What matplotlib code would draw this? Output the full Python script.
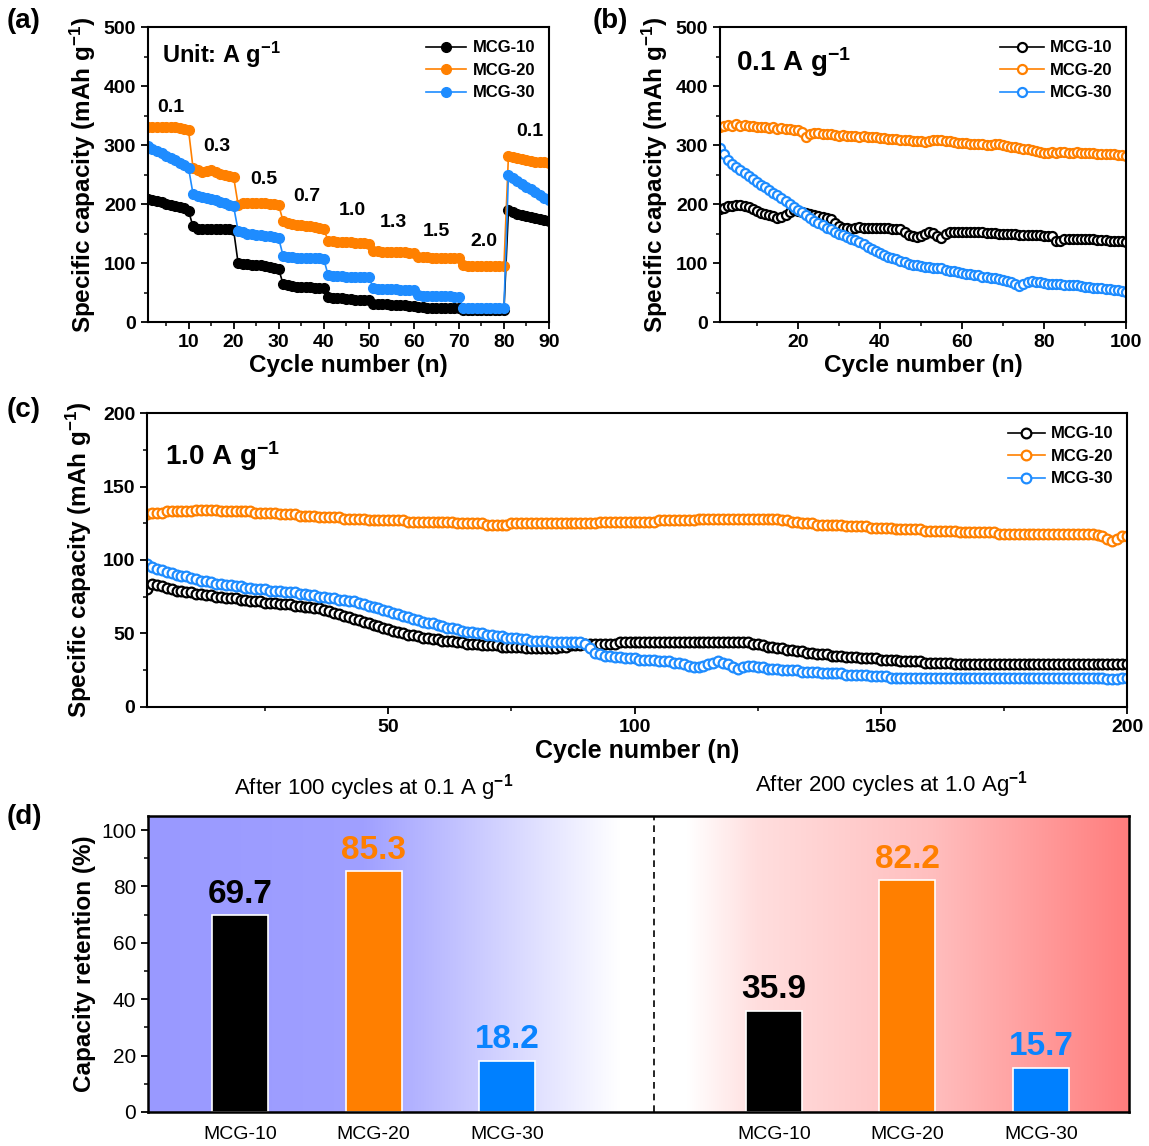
import numpy as np
import matplotlib
matplotlib.use("Agg")
import matplotlib.pyplot as plt
from matplotlib.ticker import MultipleLocator
from matplotlib import font_manager

plt.rcParams['font.family'] = ['Liberation Sans', 'DejaVu Sans']
plt.rcParams['font.weight'] = 'bold'
plt.rcParams['axes.labelweight'] = 'bold'
plt.rcParams['axes.linewidth'] = 1.5
plt.rcParams['mathtext.fontset'] = 'custom'
plt.rcParams['mathtext.rm'] = 'Liberation Sans:bold'
plt.rcParams['mathtext.bf'] = 'Liberation Sans:bold'
plt.rcParams['mathtext.default'] = 'bf'

_names = {f.name for f in font_manager.fontManager.ttflist}
NARROW = [n for n in ['Liberation Sans Narrow', 'DejaVu Sans Condensed'] if n in _names] + ['Liberation Sans', 'DejaVu Sans']

# ---------------- data ----------------
series_names = ["MCG-10", "MCG-20", "MCG-30"]

# (a) rate performance, cycles 1-90
rate_labels = ["0.1", "0.3", "0.5", "0.7", "1.0", "1.3", "1.5", "2.0", "0.1"]
rate_mcg10 = [208, 207, 205, 203, 200, 198, 197, 195, 193, 188,
              162, 158, 157, 157, 158, 158, 158, 157, 157, 156,
              100, 99, 98, 97, 97, 96, 95, 93, 92, 90,
              64, 62, 61, 60, 60, 59, 59, 58, 58, 57,
              42, 41, 40, 40, 39, 39, 38, 38, 38, 37,
              31, 30, 30, 30, 29, 29, 29, 29, 28, 28,
              25, 25, 24, 24, 24, 24, 23, 23, 23, 23,
              21, 21, 20, 20, 20, 20, 20, 20, 20, 20,
              190, 186, 183, 181, 179, 178, 177, 175, 173, 171]
rate_mcg20 = [330, 331, 331, 331, 331, 330, 330, 329, 328, 325,
              261, 257, 255, 256, 258, 255, 251, 249, 248, 246,
              199, 201, 202, 202, 202, 201, 201, 200, 200, 198,
              171, 168, 166, 165, 164, 163, 162, 161, 159, 157,
              138, 137, 136, 136, 135, 135, 134, 134, 134, 133,
              121, 120, 119, 119, 119, 118, 118, 118, 117, 117,
              111, 110, 110, 109, 109, 109, 109, 109, 109, 108,
              96, 95, 95, 95, 95, 95, 95, 95, 95, 95,
              282, 280, 278, 276, 274, 273, 272, 272, 271, 270]
rate_mcg30 = [298, 294, 290, 286, 282, 278, 274, 270, 266, 261,
              217, 214, 212, 210, 208, 206, 204, 201, 199, 196,
              155, 152, 150, 149, 148, 147, 146, 145, 144, 142,
              112, 110, 110, 109, 109, 108, 108, 108, 108, 107,
              79, 78, 78, 78, 77, 77, 77, 77, 77, 77,
              57, 56, 56, 56, 56, 56, 55, 55, 55, 55,
              45, 44, 44, 44, 44, 44, 44, 44, 43, 43,
              24, 24, 23, 23, 23, 23, 23, 23, 23, 23,
              249, 244, 239, 234, 229, 225, 220, 215, 210, 206]

# (b) cycling at 0.1 A/g, cycles 1-100
b_mcg10 = [192, 194, 196, 197, 198, 198, 197, 195, 192, 188,
           185, 183, 181, 179, 177, 178, 181, 186, 190, 189,
           187, 185, 183, 181, 179, 178, 177, 175, 168, 163,
           160, 159, 158, 160, 161, 160, 160, 159, 159, 159,
           159, 159, 158, 158, 158, 152, 147, 145, 144, 146,
           150, 153, 151, 146, 142, 150, 153, 153, 152, 152,
           152, 153, 152, 152, 152, 151, 151, 151, 150, 150,
           149, 149, 149, 148, 148, 148, 148, 147, 147, 146,
           146, 145, 137, 138, 141, 141, 140, 140, 140, 141,
           140, 140, 139, 139, 139, 138, 138, 137, 137, 136]
b_mcg20 = [331, 333, 334, 333, 335, 333, 334, 332, 333, 331,
           330, 331, 329, 330, 328, 329, 327, 328, 326, 325,
           322, 314, 318, 321, 320, 319, 318, 319, 317, 316,
           317, 316, 315, 316, 314, 315, 314, 313, 313, 312,
           312, 311, 310, 311, 309, 308, 309, 307, 306, 306,
           305, 307, 308, 309, 308, 307, 306, 305, 304, 303,
           303, 302, 302, 301, 301, 300, 300, 301, 302, 300,
           298, 297, 296, 295, 294, 293, 292, 290, 288, 287,
           287, 288, 287, 288, 288, 287, 287, 288, 287, 286,
           286, 286, 285, 285, 285, 284, 284, 283, 283, 282]
b_mcg30 = [295, 285, 275, 268, 262, 257, 252, 247, 243, 238,
           233, 229, 224, 219, 215, 210, 205, 200, 195, 190,
           186, 182, 177, 172, 168, 164, 160, 157, 153, 150,
           147, 144, 141, 139, 136, 132, 128, 124, 120, 117,
           114, 111, 108, 106, 103, 101, 99, 97, 96, 95,
           94, 93, 92, 92, 91, 89, 87, 86, 85, 83,
           82, 81, 80, 79, 77, 76, 75, 74, 73, 72,
           70, 68, 64, 61, 64, 68, 69, 68, 67, 66,
           65, 65, 64, 64, 63, 63, 62, 62, 61, 60,
           59, 58, 58, 57, 56, 56, 55, 54, 53, 51]

# (c) cycling at 1.0 A/g, cycles 1-200
c_mcg10 = [80, 84, 83, 82, 81, 80, 79, 79, 78, 78, 77, 77, 76, 76, 75, 75, 74, 74, 74, 73,
           73, 72, 72, 72, 71, 71, 71, 70, 70, 70, 69, 69, 68, 68, 67, 67, 66, 65, 64, 63,
           62, 61, 60, 59, 58, 57, 56, 55, 54, 53, 52, 51, 50, 49, 49, 48, 47, 47, 46, 46,
           45, 45, 45, 44, 44, 43, 43, 43, 42, 42, 42, 42, 41, 41, 41, 41, 41, 40, 40, 40,
           40, 40, 40, 40, 41, 41, 42, 42, 42, 43, 43, 43, 43, 43, 43, 43, 44, 44, 44, 44,
           44, 44, 44, 44, 44, 44, 44, 44, 44, 44, 44, 44, 44, 44, 44, 44, 44, 44, 44, 44,
           44, 44, 44, 43, 43, 42, 41, 41, 40, 40, 39, 39, 38, 38, 37, 37, 36, 36, 36, 35,
           35, 35, 34, 34, 34, 33, 33, 33, 33, 32, 32, 32, 32, 31, 31, 31, 31, 31, 30, 30,
           30, 30, 30, 30, 29, 29, 29, 29, 29, 29, 29, 29, 29, 29, 29, 29, 29, 29, 29, 29,
           29, 29, 29, 29, 29, 29, 29, 29, 29, 29, 29, 29, 29, 29, 29, 29, 29, 29, 29, 29]
c_mcg20 = [131, 132, 132, 132, 133, 133, 133, 133, 133, 133, 134, 134, 134, 134, 134, 133, 133, 133, 133, 133,
           133, 133, 132, 132, 132, 132, 132, 131, 131, 131, 131, 130, 130, 130, 130, 129, 129, 129, 129, 129,
           128, 128, 128, 128, 128, 127, 127, 127, 127, 127, 127, 127, 127, 126, 126, 126, 126, 126, 126, 126,
           126, 126, 126, 125, 125, 125, 125, 125, 125, 124, 124, 124, 124, 124, 125, 125, 125, 125, 125, 125,
           125, 125, 125, 125, 125, 125, 125, 125, 125, 125, 125, 125, 126, 126, 126, 126, 126, 126, 126, 126,
           126, 126, 126, 126, 127, 127, 127, 127, 127, 127, 127, 127, 128, 128, 128, 128, 128, 128, 128, 128,
           128, 128, 128, 128, 128, 128, 128, 128, 128, 127, 127, 126, 126, 125, 125, 125, 124, 124, 124, 124,
           124, 124, 123, 123, 123, 123, 123, 122, 122, 122, 122, 122, 121, 121, 121, 121, 121, 121, 120, 120,
           120, 120, 120, 120, 120, 119, 119, 119, 119, 119, 119, 119, 119, 118, 118, 118, 118, 118, 118, 118,
           118, 118, 118, 118, 118, 118, 118, 118, 118, 118, 118, 118, 118, 117, 116, 114, 113, 114, 116, 116]
c_mcg30 = [97, 95, 94, 93, 92, 91, 90, 89, 89, 88, 87, 86, 86, 85, 84, 84, 83, 83, 82, 82,
           81, 81, 80, 80, 80, 79, 79, 79, 78, 78, 78, 77, 77, 76, 76, 75, 75, 74, 74, 73,
           73, 72, 72, 71, 70, 69, 68, 67, 66, 65, 64, 63, 62, 61, 60, 59, 58, 57, 57, 56,
           55, 54, 54, 53, 52, 51, 51, 50, 50, 49, 49, 48, 48, 47, 47, 47, 46, 46, 45, 45,
           45, 45, 44, 44, 44, 44, 44, 44, 44, 43, 40, 37, 36, 35, 35, 34, 34, 33, 33, 33,
           32, 32, 32, 32, 31, 31, 31, 30, 30, 29, 28, 27, 27, 28, 29, 30, 31, 30, 29, 27,
           26, 27, 28, 28, 27, 27, 26, 26, 26, 25, 25, 25, 25, 24, 24, 24, 24, 23, 23, 23,
           23, 23, 22, 22, 22, 22, 22, 21, 21, 21, 21, 20, 20, 20, 20, 20, 20, 20, 20, 20,
           20, 20, 20, 20, 20, 20, 20, 20, 20, 20, 20, 20, 20, 20, 20, 20, 20, 20, 20, 20,
           20, 20, 20, 20, 20, 20, 20, 20, 20, 20, 20, 20, 20, 20, 20, 19, 19, 19, 20, 20]

# (d) capacity retention (%)
group_titles = ["After 100 cycles at 0.1 A g$^{-1}$", "After 200 cycles at 1.0 Ag$^{-1}$"]
retention_01 = [69.7, 85.3, 18.2]
retention_10 = [35.9, 82.2, 15.7]

# ---------------- style ----------------
line_colors = ['black', '#FF8000', '#1E8CFF']
bar_colors = ['black', '#FF7F00', '#0080FF']
label_colors = ['black', '#FF7F00', '#0A84FF']

fig = plt.figure(figsize=(11.49, 11.46), dpi=100)


def style_axis(ax, xmaj, xmin_, ymaj, ymin_, fs=14, family=None):
    ax.xaxis.set_major_locator(MultipleLocator(xmaj))
    ax.xaxis.set_minor_locator(MultipleLocator(xmin_))
    ax.yaxis.set_major_locator(MultipleLocator(ymaj))
    ax.yaxis.set_minor_locator(MultipleLocator(ymin_))
    ax.tick_params(which='major', direction='out', length=5, width=1.3,
                   labelsize=fs, top=False, right=False)
    ax.tick_params(which='minor', direction='out', length=3, width=1.1,
                   top=False, right=False)
    for lab in ax.get_xticklabels() + ax.get_yticklabels():
        lab.set_fontweight('bold')
        if family:
            lab.set_fontfamily(family)


# ---------------- (a) ----------------
ax_a = fig.add_axes([0.1288, 0.719, 0.349, 0.2574])
cyc_a = np.arange(1, len(rate_mcg10) + 1)
for vals, col, name in zip([rate_mcg10, rate_mcg20, rate_mcg30], line_colors, series_names):
    ax_a.plot(cyc_a, vals, '-o', color=col, lw=1.2, ms=7, mec=col, mfc=col, label=name)
ax_a.set_xlim(1, 90)
ax_a.set_ylim(0, 500)
style_axis(ax_a, 10, 5, 100, 50)
ax_a.set_xlabel('Cycle number (n)', fontsize=17.5, labelpad=2)
ax_a.set_ylabel('Specific capacity (mAh g$^{-1}$)', fontsize=17.5, labelpad=4)
ax_a.text(4.2, 452, 'Unit: A g$^{-1}$', fontsize=17, fontweight='bold', va='center', ha='left')
rate_label_xy = [(6.1, 364), (16.2, 297), (26.8, 241), (36.3, 213), (46.3, 189),
                 (55.4, 169), (65.1, 154), (75.6, 136), (85.8, 323)]
for lab, (x, y) in zip(rate_labels, rate_label_xy):
    ax_a.text(x, y, lab, fontsize=14, fontweight='bold', ha='center', va='center')
ax_a.legend(loc='upper right', frameon=False, prop={'weight': 'bold', 'size': 12},
            handlelength=2.4, labelspacing=0.45, borderaxespad=0.4, handletextpad=0.4)

# ---------------- (b) ----------------
ax_b = fig.add_axes([0.6266, 0.719, 0.3534, 0.2574])
cyc_b = np.arange(1, len(b_mcg10) + 1)
for vals, col, name in zip([b_mcg10, b_mcg20, b_mcg30], line_colors, series_names):
    ax_b.plot(cyc_b, vals, '-o', color=col, lw=1.2, ms=6.5, mec=col, mfc='white', mew=1.6, label=name)
ax_b.set_xlim(1, 100)
ax_b.set_ylim(0, 500)
style_axis(ax_b, 20, 10, 100, 50)
ax_b.set_xlabel('Cycle number (n)', fontsize=17.5, labelpad=2)
ax_b.set_ylabel('Specific capacity (mAh g$^{-1}$)', fontsize=17.5, labelpad=4)
ax_b.text(4.8, 440, '0.1 A g$^{-1}$', fontsize=20, fontweight='bold', va='center', ha='left')
ax_b.legend(loc='upper right', frameon=False, prop={'weight': 'bold', 'size': 12},
            handlelength=2.6, labelspacing=0.45, borderaxespad=0.4, handletextpad=0.4)

# ---------------- (c) ----------------
ax_c = fig.add_axes([0.1279, 0.3831, 0.853, 0.2565])
cyc_c = np.arange(1, len(c_mcg10) + 1)
for vals, col, name in zip([c_mcg10, c_mcg20, c_mcg30], line_colors, series_names):
    ax_c.plot(cyc_c, vals, '-o', color=col, lw=1.2, ms=7, mec=col, mfc='white', mew=1.6, label=name)
ax_c.set_xlim(1, 200)
ax_c.set_ylim(0, 200)
style_axis(ax_c, 50, 25, 50, 25, fs=14, family=NARROW)
ax_c.set_xlabel('Cycle number (n)', fontsize=18, labelpad=2)
ax_c.set_ylabel('Specific capacity (mAh g$^{-1}$)', fontsize=17.5, labelpad=6)
ax_c.text(4.7, 171, '1.0 A g$^{-1}$', fontsize=20, fontweight='bold', va='center', ha='left',
          family=NARROW)
ax_c.legend(loc='upper right', frameon=False, prop={'weight': 'bold', 'size': 12, 'family': NARROW},
            handlelength=2.2, labelspacing=0.45, borderaxespad=0.4, handletextpad=0.4)

# ---------------- (d) ----------------
ax_d = fig.add_axes([0.1288, 0.0297, 0.8538, 0.2583])
pos_left = np.array([0, 1, 2])
pos_right = np.array([4, 5, 6])
ax_d.set_xlim(-0.69, 6.66)
ax_d.set_ylim(0, 105)
split_x = 3.1

# gradient background
ncol = 600
xs = np.linspace(0, 1, ncol)
stops = [0.0, 0.22, 0.48, 0.52, 0.55, 0.62, 0.80, 1.0]
rs = [153, 160, 255, 255, 255, 255, 255, 255]
gs = [153, 160, 255, 255, 255, 222, 190, 125]
bb = [255, 255, 255, 255, 255, 222, 190, 125]
img = np.stack([np.interp(xs, stops, rs), np.interp(xs, stops, gs), np.interp(xs, stops, bb)], axis=-1) / 255.0
ax_d.imshow(img[np.newaxis, :, :], extent=[0, 1, 0, 1], transform=ax_d.transAxes,
            aspect='auto', zorder=0, interpolation='bilinear')

ax_d.bar(pos_left, retention_01, width=0.42, color=bar_colors, edgecolor='white', linewidth=1.2, zorder=2)
ax_d.bar(pos_right, retention_10, width=0.42, color=bar_colors, edgecolor='white', linewidth=1.2, zorder=2)
for positions, vals in [(pos_left, retention_01), (pos_right, retention_10)]:
    for p, v, c in zip(positions, vals, label_colors):
        ax_d.text(p, v + 2, f'{v:.1f}', ha='center', va='bottom', fontsize=24,
                  color=c, family=NARROW, fontweight='bold', zorder=3)
ax_d.axvline(split_x, color='black', ls=(0, (4, 3)), lw=1.2, zorder=1)

ax_d.set_xticks(list(pos_left) + list(pos_right))
ax_d.set_xticklabels(series_names + series_names)
ax_d.yaxis.set_major_locator(MultipleLocator(20))
ax_d.yaxis.set_minor_locator(MultipleLocator(10))
ax_d.tick_params(axis='x', length=0, pad=10, labelsize=14)
ax_d.tick_params(axis='y', which='major', direction='out', length=5, width=1.3, labelsize=15)
ax_d.tick_params(axis='y', which='minor', direction='out', length=3, width=1.1)
for lab in ax_d.get_xticklabels() + ax_d.get_yticklabels():
    lab.set_fontfamily(NARROW)
    lab.set_fontweight('normal')
for s in ax_d.spines.values():
    s.set_linewidth(1.8)
ax_d.set_ylabel('Capacity retention (%)', fontsize=17.5, labelpad=4)
ax_d.text(1.0, 1.095, group_titles[0], transform=ax_d.get_xaxis_transform(), ha='center', va='center',
          fontsize=16, family=NARROW, fontweight='normal')
ax_d.text(4.88, 1.105, group_titles[1], transform=ax_d.get_xaxis_transform(), ha='center', va='center',
          fontsize=16, family=NARROW, fontweight='normal')

# panel labels
for lbl, x, y in [('(a)', 0.006, 0.982), ('(b)', 0.516, 0.982), ('(c)', 0.006, 0.642), ('(d)', 0.006, 0.287)]:
    fig.text(x, y, lbl, fontsize=20, fontweight='bold', ha='left', va='center')

fig.savefig('out.png', dpi=100)
